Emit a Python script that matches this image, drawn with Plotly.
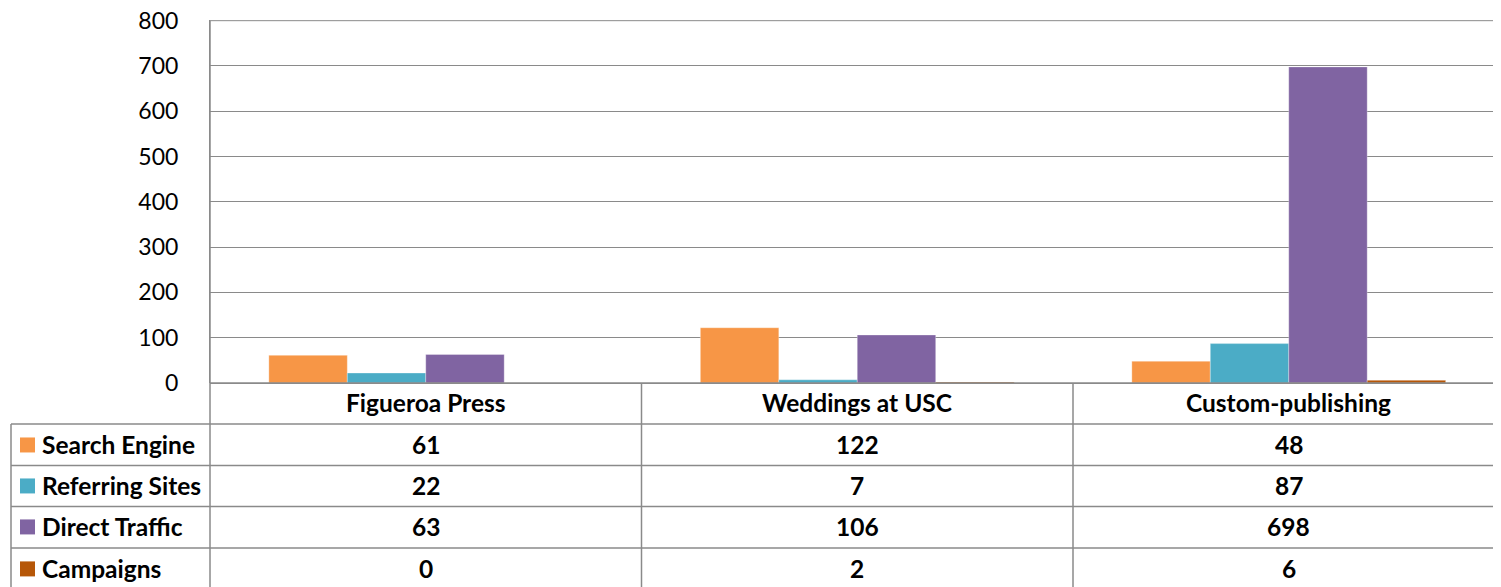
import plotly.graph_objects as go

categories = ["Figueroa Press", "Weddings at USC", "Custom-publishing"]
series_names = ["Search Engine", "Referring Sites", "Direct Traffic", "Campaigns"]
search_engine = [61, 122, 48]
referring_sites = [22, 7, 87]
direct_traffic = [63, 106, 698]
campaigns = [0, 2, 6]
y_ticks = [0, 100, 200, 300, 400, 500, 600, 700, 800]

colors = ["#F79646", "#4BACC6", "#8064A2", "#B65708"]
series_values = [search_engine, referring_sites, direct_traffic, campaigns]

OFF = 8  # page body margin
W, H = 1501 - OFF, 587 - OFF
Y_MAX = 801.5
SCR_L, SCR_ZERO = 210, 383
SCR_800 = 20.5
plot_h = (SCR_ZERO - SCR_800) * Y_MAX / 800.0
SCR_TOP = SCR_ZERO - plot_h
L = SCR_L - OFF
T = SCR_TOP - OFF
B = 587 - SCR_ZERO
plot_w = 1501 - SCR_L
FONT = "Lato"
GRID = "#8a8a8a"
TICK_SIZE = 23
TABLE_SIZE = 24.5

def px_y(y):
    return (SCR_ZERO - y) / plot_h

def px_x(x):
    return (x - SCR_L) / plot_w

fig = go.Figure()
for name, vals, c in zip(series_names, series_values, colors):
    fig.add_trace(go.Bar(
        x=categories, y=vals, name=name,
        marker=dict(color=c, line=dict(color="rgba(255,255,255,0.6)", width=0.5)),
    ))

cat_px = 431.5
x_right = -0.5 + plot_w / cat_px

fig.update_layout(
    width=W, height=H,
    margin=dict(l=L, r=0, t=T, b=B, pad=0),
    paper_bgcolor="white", plot_bgcolor="white",
    barmode="group", bargap=1.5 / 5.5, bargroupgap=0,
    showlegend=False,
    font=dict(family=FONT, color="#000000"),
    xaxis=dict(range=[-0.5, x_right], showticklabels=False, showgrid=False,
               zeroline=False, showline=False, fixedrange=True),
    yaxis=dict(range=[0, Y_MAX], tickvals=y_ticks, showgrid=True, gridcolor=GRID,
               gridwidth=1, zeroline=True, zerolinecolor=GRID, zerolinewidth=1,
               showline=True, linecolor=GRID, linewidth=1, automargin=False,
               ticklabeloverflow="allow",
               tickfont=dict(family=FONT, size=TICK_SIZE, color="#000000"),
               ticklabelstandoff=26, ticks="", fixedrange=True),
)

shapes = []
line = dict(color=GRID, width=1.5)
# top gridline at the axis maximum
shapes.append(dict(type="line", xref="paper", yref="y", x0=0, x1=1,
                   y0=y_ticks[-1], y1=y_ticks[-1], line=dict(color=GRID, width=1),
                   layer="below"))
for yy in [424, 465.5, 506.5, 548]:
    shapes.append(dict(type="line", xref="paper", yref="paper",
                       x0=px_x(11), x1=px_x(1505), y0=px_y(yy), y1=px_y(yy), line=line))
shapes.append(dict(type="line", xref="paper", yref="paper",
                   x0=0, x1=1.01, y0=0, y1=0, line=line))
shapes.append(dict(type="line", xref="paper", yref="paper",
                   x0=px_x(11), x1=px_x(11), y0=px_y(424), y1=px_y(600), line=line))
shapes.append(dict(type="line", xref="paper", yref="paper",
                   x0=0, x1=0, y0=px_y(SCR_800), y1=px_y(600), line=line))
for xb in [0.5, 1.5]:
    shapes.append(dict(type="line", xref="x", yref="paper",
                       x0=xb, x1=xb, y0=0, y1=px_y(600), line=line))

row_centers = [445, 486, 527, 569]
annotations = []
for i, cat in enumerate(categories):
    annotations.append(dict(x=i, y=px_y(403), xref="x", yref="paper", text="<b>%s</b>" % cat,
                            showarrow=False, font=dict(family=FONT, size=TABLE_SIZE, color="#000"),
                            xanchor="center", yanchor="middle"))
for r, (name, vals, c) in enumerate(zip(series_names, series_values, colors)):
    yc = row_centers[r]
    shapes.append(dict(type="rect", xref="paper", yref="paper",
                       x0=px_x(20), x1=px_x(35), y0=px_y(yc + 7.5), y1=px_y(yc - 7.5),
                       fillcolor=c, line=dict(width=0)))
    annotations.append(dict(x=px_x(40), y=px_y(yc), xref="paper", yref="paper",
                            text="<b>%s</b>" % name, showarrow=False,
                            font=dict(family=FONT, size=TABLE_SIZE, color="#000"),
                            xanchor="left", yanchor="middle"))
    for i, v in enumerate(vals):
        annotations.append(dict(x=i, y=px_y(yc), xref="x", yref="paper",
                                text="<b>%d</b>" % v, showarrow=False,
                                font=dict(family=FONT, size=TABLE_SIZE, color="#000"),
                                xanchor="center", yanchor="middle"))

fig.update_layout(shapes=shapes, annotations=annotations)
fig.write_html("out.html")
